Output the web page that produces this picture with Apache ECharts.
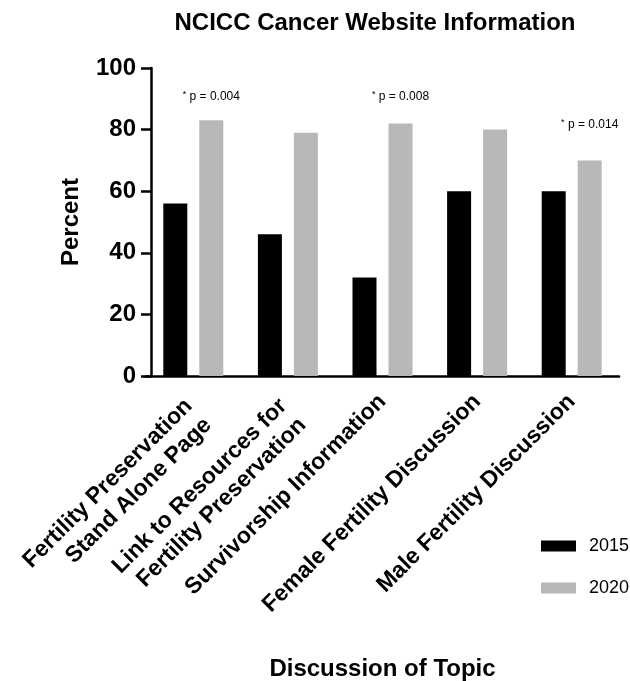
<!DOCTYPE html>
<html>
<head>
<meta charset="utf-8">
<script src="https://cdn.jsdelivr.net/npm/echarts@6/dist/echarts.min.js"></script>
<style>
  html, body { margin: 0; padding: 0; background: #fff; }
  #chart { width: 630px; height: 681px; }
</style>
</head>
<body>
<div id="chart"></div>
<script>
  // categories and values
  const topics = [
    'Fertility Preservation\nStand Alone Page',
    'Link to Resources for\nFertility Preservation',
    'Survivorship Information',
    'Female Fertility Discussion',
    'Male Fertility Discussion'
  ];
  const years = ['2015', '2020'];
  const values2015 = [56, 46, 32, 60, 60];
  const values2020 = [83, 79, 82, 80, 70];
  // significance notes above the 2020 bars
  const noteTopics = [0, 2, 4];
  const noteHeights = [90.6, 90.6, 81.5];
  const noteTexts = ['p = 0.004', 'p = 0.008', 'p = 0.014'];
  const yTicks = [0, 20, 40, 60, 80, 100];

  const font = 'Liberation Sans, Arial, Helvetica, sans-serif';
  const myChart = echarts.init(document.getElementById('chart'));

  const notes = noteTopics.map((c, i) => ({
    coord: [c, noteHeights[i]],
    value: noteTexts[i]
  }));

  // two-line labels hang from their first line, like the single ones
  function topicLabel(v) {
    const lines = v.split('\n');
    if (lines.length === 1) return v;
    return '\n' + lines.map(l => l + '\u00a0').join('\n');
  }

  const option = {
    animation: false,
    title: {
      text: 'NCICC Cancer Website Information',
      left: 370,
      top: 6,
      textAlign: 'center',
      textStyle: { fontFamily: font, fontWeight: 'bold', fontSize: 24, color: '#000' }
    },
    legend: {
      orient: 'vertical',
      left: 536,
      top: 532,
      icon: 'rect',
      itemWidth: 35,
      itemHeight: 11,
      itemGap: 24,
      data: years,
      textStyle: { fontFamily: font, fontSize: 18, color: '#000', padding: [0, 0, 0, 8] }
    },
    grid: { left: 146, right: 11, top: 68, bottom: 305, outerBoundsMode: 'none' },
    xAxis: {
      type: 'category',
      data: topics,
      name: 'Discussion of Topic',
      nameLocation: 'middle',
      nameGap: 281,
      nameTextStyle: { fontFamily: font, fontWeight: 'bold', fontSize: 24, color: '#000' },
      axisLine: { lineStyle: { color: '#000', width: 2.5 } },
      axisTick: { alignWithLabel: true, length: 9, lineStyle: { color: '#000', width: 2.5 } },
      axisLabel: {
        rotate: 45,
        interval: 0,
        margin: 22,
        fontFamily: font,
        fontWeight: 'bold',
        fontSize: 23,
        lineHeight: 27,
        color: '#000',
        formatter: topicLabel
      }
    },
    yAxis: {
      type: 'value',
      min: yTicks[0],
      max: yTicks[yTicks.length - 1],
      interval: 20,
      offset: -5,
      name: 'Percent',
      nameLocation: 'middle',
      nameGap: 68,
      nameTextStyle: { fontFamily: font, fontWeight: 'bold', fontSize: 24, color: '#000' },
      splitLine: { show: false },
      axisLine: { show: true, lineStyle: { color: '#000', width: 2.5 } },
      axisTick: { show: true, length: 10, lineStyle: { color: '#000', width: 2.5 } },
      axisLabel: { margin: 15, fontFamily: font, fontWeight: 'bold', fontSize: 24, color: '#000' }
    },
    series: [
      {
        name: years[0],
        type: 'bar',
        data: values2015,
        barWidth: 24,
        barGap: '50%',
        itemStyle: { color: '#000' }
      },
      {
        name: years[1],
        type: 'bar',
        data: values2020,
        barWidth: 24,
        itemStyle: { color: '#b8b8b8' },
        markPoint: {
          symbol: 'circle',
          symbolSize: 0,
          label: {
            show: true,
            formatter: p => '{s|*} ' + p.value,
            fontFamily: font,
            fontSize: 12,
            color: '#000',
            rich: { s: { fontFamily: font, fontSize: 9, verticalAlign: 'top', padding: [0, 0, 4, 0] } }
          },
          data: notes
        }
      }
    ]
  };

  myChart.setOption(option);
</script>
</body>
</html>
